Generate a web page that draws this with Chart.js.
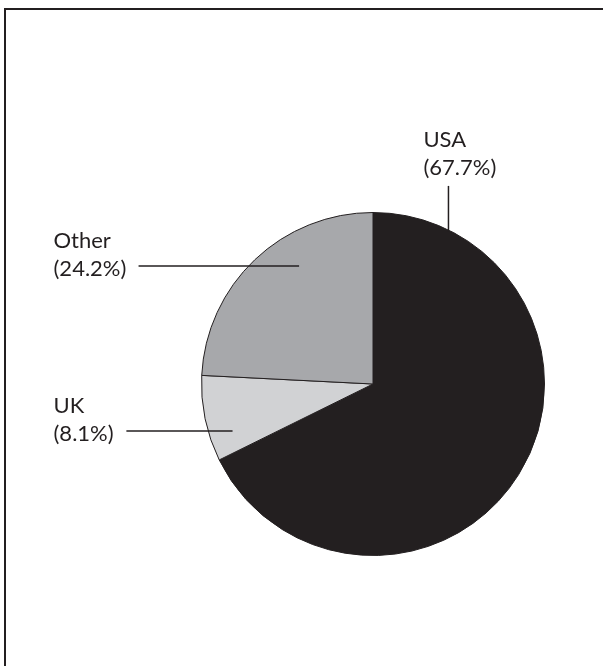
<!DOCTYPE html>
<html>
<head>
<meta charset="utf-8">
<script src="https://cdn.jsdelivr.net/npm/chart.js@4"></script>
<style>
    html, body { margin: 0; padding: 0; background: #fff; overflow: hidden; }
    #wrap { position: relative; width: 603px; height: 666px; }
</style>
</head>
<body>
<div id="wrap"><canvas id="myChart" width="603" height="666"></canvas></div>
<script>
const countries = ['USA', 'UK', 'Other'];
const shares = [67.7, 8.1, 24.2];
const sliceColors = ['#231f20', '#d1d2d4', '#a7a8ab'];

// where each label and its leader line sit, in units of the pie radius from the centre
const labelSpots = {
    USA:   { tx: 0.294, ty: -1.382, line: [[0.44, -1.155], [0.44, -0.89]] },
    Other: { tx: -1.863, ty: -0.791, line: [[-1.367, -0.688], [-0.431, -0.688]] },
    UK:    { tx: -1.863, ty: 0.169, line: [[-1.438, 0.274], [-0.819, 0.274]] }
};

const ink = '#231f20';

// outer frame, only its top and left edges fall inside the page
const framePlugin = {
    id: 'frame',
    beforeDraw(chart) {
        const ctx = chart.ctx;
        ctx.save();
        ctx.strokeStyle = ink;
        ctx.lineWidth = 2;
        ctx.strokeRect(5, 9, 900, 900);
        ctx.restore();
    }
};

const calloutPlugin = {
    id: 'callouts',
    afterDatasetsDraw(chart) {
        const ctx = chart.ctx;
        const arcs = chart.getDatasetMeta(0).data;
        const cx = arcs[0].x, cy = arcs[0].y, r = arcs[0].outerRadius;
        ctx.save();
        ctx.strokeStyle = ink;
        ctx.fillStyle = ink;
        ctx.lineWidth = 1.5;
        ctx.font = '22px Lato';
        ctx.textBaseline = 'alphabetic';
        countries.forEach((name, i) => {
            const spot = labelSpots[name];
            const [a, b] = spot.line;
            ctx.beginPath();
            ctx.moveTo(cx + a[0] * r, cy + a[1] * r);
            ctx.lineTo(cx + b[0] * r, cy + b[1] * r);
            ctx.stroke();
            const x = cx + spot.tx * r, y = cy + spot.ty * r;
            ctx.fillText(name, x, y);
            ctx.fillText('(' + shares[i].toFixed(1) + '%)', x, y + 28);
        });
        ctx.restore();
    }
};

let myChart;

document.addEventListener('DOMContentLoaded', function () {
    const ctx = document.getElementById('myChart');
    myChart = new Chart(ctx, {
        type: 'pie',
        data: {
            labels: countries,
            datasets: [{
                data: shares,
                backgroundColor: sliceColors,
                borderColor: ink,
                borderWidth: 1
            }]
        },
        options: {
            responsive: false,
            animation: false,
            layout: {
                padding: { left: 201, right: 58, top: 212, bottom: 110 }
            },
            plugins: {
                legend: { display: false },
                tooltip: { enabled: false }
            }
        },
        plugins: [framePlugin, calloutPlugin]
    });
});
</script>
</body>
</html>
